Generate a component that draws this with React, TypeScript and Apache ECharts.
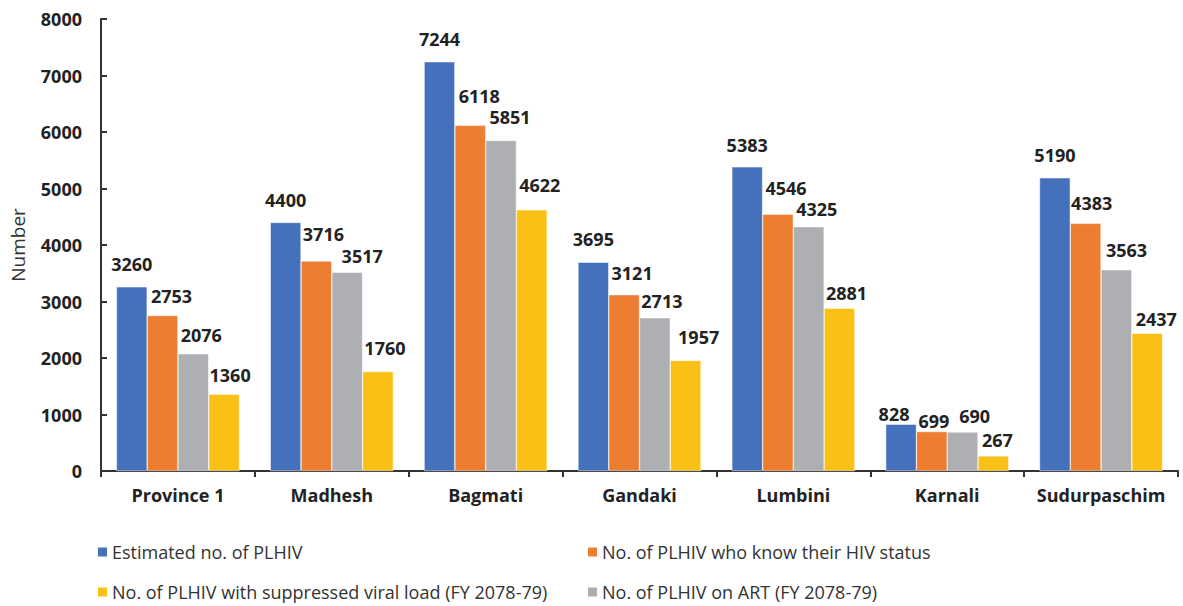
import React, { useEffect, useRef } from "react";
import * as echarts from "echarts";

const categories = ["Province 1", "Madhesh", "Bagmati", "Gandaki", "Lumbini", "Karnali", "Sudurpaschim"];
const estimated = [3260, 4400, 7244, 3695, 5383, 828, 5190];
const knowStatus = [2753, 3716, 6118, 3121, 4546, 699, 4383];
const onArt = [2076, 3517, 5851, 2713, 4325, 690, 3563];
const suppressed = [1360, 1760, 4622, 1957, 2881, 267, 2437];
const yTicks = { min: 0, max: 8000, interval: 1000 };

const names = [
  "Estimated no. of PLHIV",
  "No. of PLHIV who know their HIV status",
  "No. of PLHIV on ART (FY 2078-79)",
  "No. of PLHIV with suppressed viral load (FY 2078-79)",
];
const colors = ["#4570BC", "#ED7D31", "#AEAFB3", "#FBC015"];
const values = [estimated, knowStatus, onArt, suppressed];

// label nudges (layout only, in pixels) as placed in the reference
const labelDx = [
  [0, 0, 0, 0, 0, -7, 0],
  [9, 7, 9, 8, 8, 2, 6],
  [8, 15, 9, 7, 8, 12, 10],
  [6, 7, 8, 13, 7, 4, 9],
];
const labelDy = [
  [0, 1, 0, 0, 1, 13, 0],
  [4, -4, -6, 1, -3, 12, 3],
  [4, 7, 0, 6, 5, 7, 3],
  [4, -1, -2, 0, 8, 7, 9],
];

const FONT = "'Open Sans', 'Noto Sans', sans-serif";

export default function App() {
  const ref = useRef<HTMLDivElement>(null);
  useEffect(() => {
    const chart = echarts.init(ref.current!, undefined, { renderer: "svg" });
    const legendPos: Record<string, { left: number; top: number }> = {
      [names[0]]: { left: 96, top: 543 },
      [names[1]]: { left: 586, top: 543 },
      [names[3]]: { left: 96, top: 583 },
      [names[2]]: { left: 586, top: 583 },
    };
    chart.setOption({
      animation: false,
      textStyle: { fontFamily: FONT },
      grid: { left: 101, right: 5, top: 19, bottom: 135 },
      legend: names.map((n) => ({
        data: [n],
        left: legendPos[n].left,
        top: legendPos[n].top,
        padding: 0,
        icon: "rect",
        itemWidth: 11,
        itemHeight: 11,
        itemGap: 5,
        selectedMode: false,
        textStyle: { fontSize: 18, color: "#333", fontFamily: FONT, padding: [0, 0, 0, -1] },
      })),
      xAxis: {
        type: "category",
        data: categories,
        axisLine: { lineStyle: { color: "#333", width: 2 } },
        axisTick: { show: true, interval: 0, length: 6, lineStyle: { color: "#333", width: 2 } },
        axisLabel: { interval: 0, fontSize: 18, fontWeight: "bold", color: "#222", margin: 15 },
      },
      yAxis: {
        type: "value",
        min: yTicks.min,
        max: yTicks.max,
        interval: yTicks.interval,
        name: "Number",
        nameLocation: "middle",
        nameGap: 74,
        nameTextStyle: { fontSize: 19, color: "#333" },
        splitLine: { show: false },
        axisLine: { show: true, lineStyle: { color: "#333", width: 2 } },
        axisTick: { show: true, inside: true, length: 6, lineStyle: { color: "#333", width: 2 } },
        axisLabel: {
          fontSize: 18,
          fontWeight: "bold",
          color: "#222",
          margin: 19,
          formatter: (v: number) => String(v),
        },
      },
      series: names.map((n, i) => ({
        name: n,
        type: "bar",
        barGap: "0%",
        barCategoryGap: "20%",
        itemStyle: { color: colors[i], borderColor: "#fff", borderWidth: 0.5 },
        label: {
          show: true,
          position: "top",
          fontSize: 18,
          fontWeight: "bold",
          color: "#222",
          distance: 14,
        },
        data: values[i].map((v, j) => ({
          value: v,
          label: { offset: [labelDx[i][j], labelDy[i][j]] },
        })),
      })),
    });
    return () => chart.dispose();
  }, []);
  return (
    <div
      ref={ref}
      style={{ position: "fixed", left: 0, top: 0, width: 1183, height: 606, background: "#fff" }}
    />
  );
}
